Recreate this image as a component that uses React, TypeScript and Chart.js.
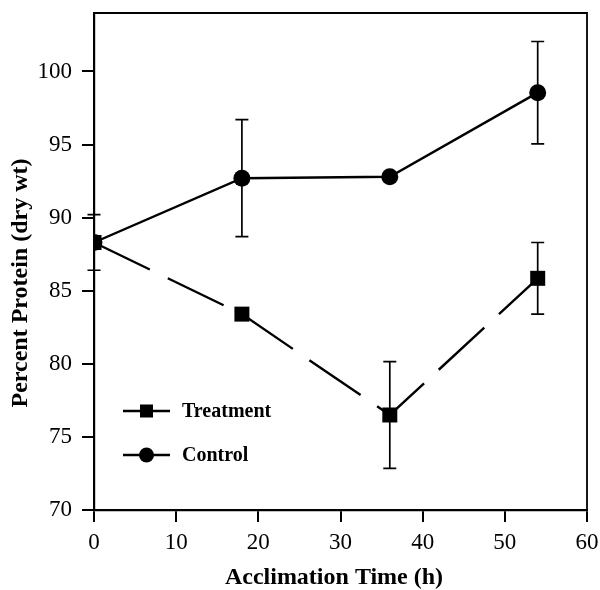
import React, { useEffect, useRef } from "react";
import { Chart, registerables } from "chart.js";

Chart.register(...registerables);

// Acclimation time points (h)
const hours = [0, 18, 36, 54];

// Percent protein (dry wt), mean and ± error
const treatmentMean = [88.3, 83.4, 76.5, 85.85];
const treatmentErr = [1.9, 0, 3.65, 2.45];
const controlMean = [88.3, 92.7, 92.8, 98.55];
const controlErr = [0, 4.0, 0, 3.5];

const seriesNames = ["Treatment", "Control"];
const xTicks = [0, 10, 20, 30, 40, 50, 60];
const yTicks = [70, 75, 80, 85, 90, 95, 100];
const xTitle = "Acclimation Time (h)";
const yTitle = "Percent Protein (dry wt)";

const SERIF = "'Liberation Serif', 'Times New Roman', serif";
const INK = "#000";

// Vertical error bars with caps, drawn under the markers
const errorBars = {
  id: "errorBars",
  beforeDatasetsDraw(chart: any) {
    const { ctx, scales } = chart;
    const xs = scales.x;
    const ys = scales.y;
    ctx.save();
    ctx.strokeStyle = INK;
    ctx.lineWidth = 1.7;
    chart.data.datasets.forEach((ds: any) => {
      const errs: number[] = ds.errors || [];
      ds.data.forEach((p: any, i: number) => {
        const e = errs[i];
        if (!e) return;
        const px = xs.getPixelForValue(p.x);
        const top = ys.getPixelForValue(p.y + e);
        const bot = ys.getPixelForValue(p.y - e);
        const cap = 6.5;
        ctx.beginPath();
        ctx.moveTo(px, top);
        ctx.lineTo(px, bot);
        ctx.moveTo(px - cap, top);
        ctx.lineTo(px + cap, top);
        ctx.moveTo(px - cap, bot);
        ctx.lineTo(px + cap, bot);
        ctx.stroke();
      });
    });
    ctx.restore();
  },
};

// Top and right edges of the plot box
const frame = {
  id: "frame",
  afterDraw(chart: any) {
    const { ctx, chartArea: a } = chart;
    ctx.save();
    ctx.strokeStyle = INK;
    ctx.lineWidth = 1.8;
    ctx.beginPath();
    ctx.moveTo(a.left, a.top);
    ctx.lineTo(a.right, a.top);
    ctx.lineTo(a.right, a.bottom);
    ctx.stroke();
    ctx.restore();
  },
};

// Legend inside the lower-left corner of the plot
const insetLegend = {
  id: "insetLegend",
  afterDatasetsDraw(chart: any) {
    const { ctx, chartArea: a } = chart;
    ctx.save();
    chart.data.datasets.forEach((ds: any, i: number) => {
      const y = a.top + 398 + i * 44;
      const x0 = a.left + 29;
      const x1 = a.left + 76;
      const xm = (x0 + x1) / 2;
      ctx.strokeStyle = INK;
      ctx.lineWidth = 2.4;
      ctx.setLineDash([]);
      ctx.beginPath();
      ctx.moveTo(x0, y);
      ctx.lineTo(x1, y);
      ctx.stroke();
      ctx.fillStyle = INK;
      if (ds.pointStyle === "rect") {
        ctx.fillRect(xm - 6.5, y - 6.5, 13, 13);
      } else {
        ctx.beginPath();
        ctx.arc(xm, y, 7.5, 0, Math.PI * 2);
        ctx.fill();
      }
      ctx.font = `bold 20px ${SERIF}`;
      ctx.textAlign = "left";
      ctx.textBaseline = "middle";
      ctx.fillText(ds.label, a.left + 88, y + 1);
    });
    ctx.restore();
  },
};

// Axis titles
const axisTitles = {
  id: "axisTitles",
  afterDraw(chart: any) {
    const { ctx } = chart;
    ctx.save();
    ctx.fillStyle = INK;
    ctx.font = `bold 24px ${SERIF}`;
    ctx.textAlign = "center";
    ctx.textBaseline = "alphabetic";
    ctx.fillText(xTitle, 334, 584);
    ctx.translate(27, 283);
    ctx.rotate(-Math.PI / 2);
    ctx.fillText(yTitle, 0, 0);
    ctx.restore();
  },
};

export default function App() {
  const canvasRef = useRef<HTMLCanvasElement | null>(null);

  useEffect(() => {
    document.body.style.margin = "0";
    const canvas = canvasRef.current;
    if (!canvas) return;

    const chart = new Chart(canvas, {
      type: "line",
      data: {
        datasets: [
          {
            label: seriesNames[0],
            data: hours.map((h, i) => ({ x: h, y: treatmentMean[i] })),
            errors: treatmentErr,
            borderColor: INK,
            backgroundColor: INK,
            borderWidth: 2.4,
            borderDash: [62, 20],
            pointStyle: "rect",
            pointRadius: 10.6,
            pointBackgroundColor: INK,
            pointBorderColor: INK,
            pointBorderWidth: 0,
            tension: 0,
          } as any,
          {
            label: seriesNames[1],
            data: hours.map((h, i) => ({ x: h, y: controlMean[i] })),
            errors: controlErr,
            borderColor: INK,
            backgroundColor: INK,
            borderWidth: 2.4,
            pointStyle: "circle",
            pointRadius: 8.5,
            pointBackgroundColor: INK,
            pointBorderColor: INK,
            pointBorderWidth: 0,
            tension: 0,
          } as any,
        ],
      },
      options: {
        animation: false,
        responsive: true,
        maintainAspectRatio: false,
        layout: { padding: { top: 13, right: 13, left: 0, bottom: 0 } },
        plugins: {
          legend: { display: false },
          tooltip: { enabled: false },
        },
        scales: {
          x: {
            type: "linear",
            min: 0,
            max: 60,
            afterBuildTicks: (s: any) => {
              s.ticks = xTicks.map((v) => ({ value: v }));
            },
            afterFit: (s: any) => {
              s.height = 80;
              s.paddingLeft = 0;
              s.paddingRight = 0;
            },
            ticks: {
              color: INK,
              font: { family: SERIF, size: 23 },
              padding: 7,
              maxRotation: 0,
            },
            grid: {
              drawOnChartArea: false,
              drawTicks: true,
              tickLength: 12,
              color: INK,
              lineWidth: 2,
            },
            border: { display: true, color: INK, width: 2.2 },
          },
          y: {
            type: "linear",
            min: 70,
            max: 104,
            afterBuildTicks: (s: any) => {
              s.ticks = yTicks.map((v) => ({ value: v }));
            },
            afterFit: (s: any) => {
              s.width = 94;
              s.paddingTop = 0;
              s.paddingBottom = 0;
            },
            ticks: {
              color: INK,
              font: { family: SERIF, size: 23 },
              padding: 10,
            },
            grid: {
              drawOnChartArea: false,
              drawTicks: true,
              tickLength: 12,
              color: INK,
              lineWidth: 2,
            },
            border: { display: true, color: INK, width: 2.2 },
          },
        },
      },
      plugins: [errorBars, frame, insetLegend, axisTitles],
    });

    return () => chart.destroy();
  }, []);

  return (
    <div style={{ position: "relative", width: 600, height: 590, background: "#fff" }}>
      <canvas ref={canvasRef} />
    </div>
  );
}
